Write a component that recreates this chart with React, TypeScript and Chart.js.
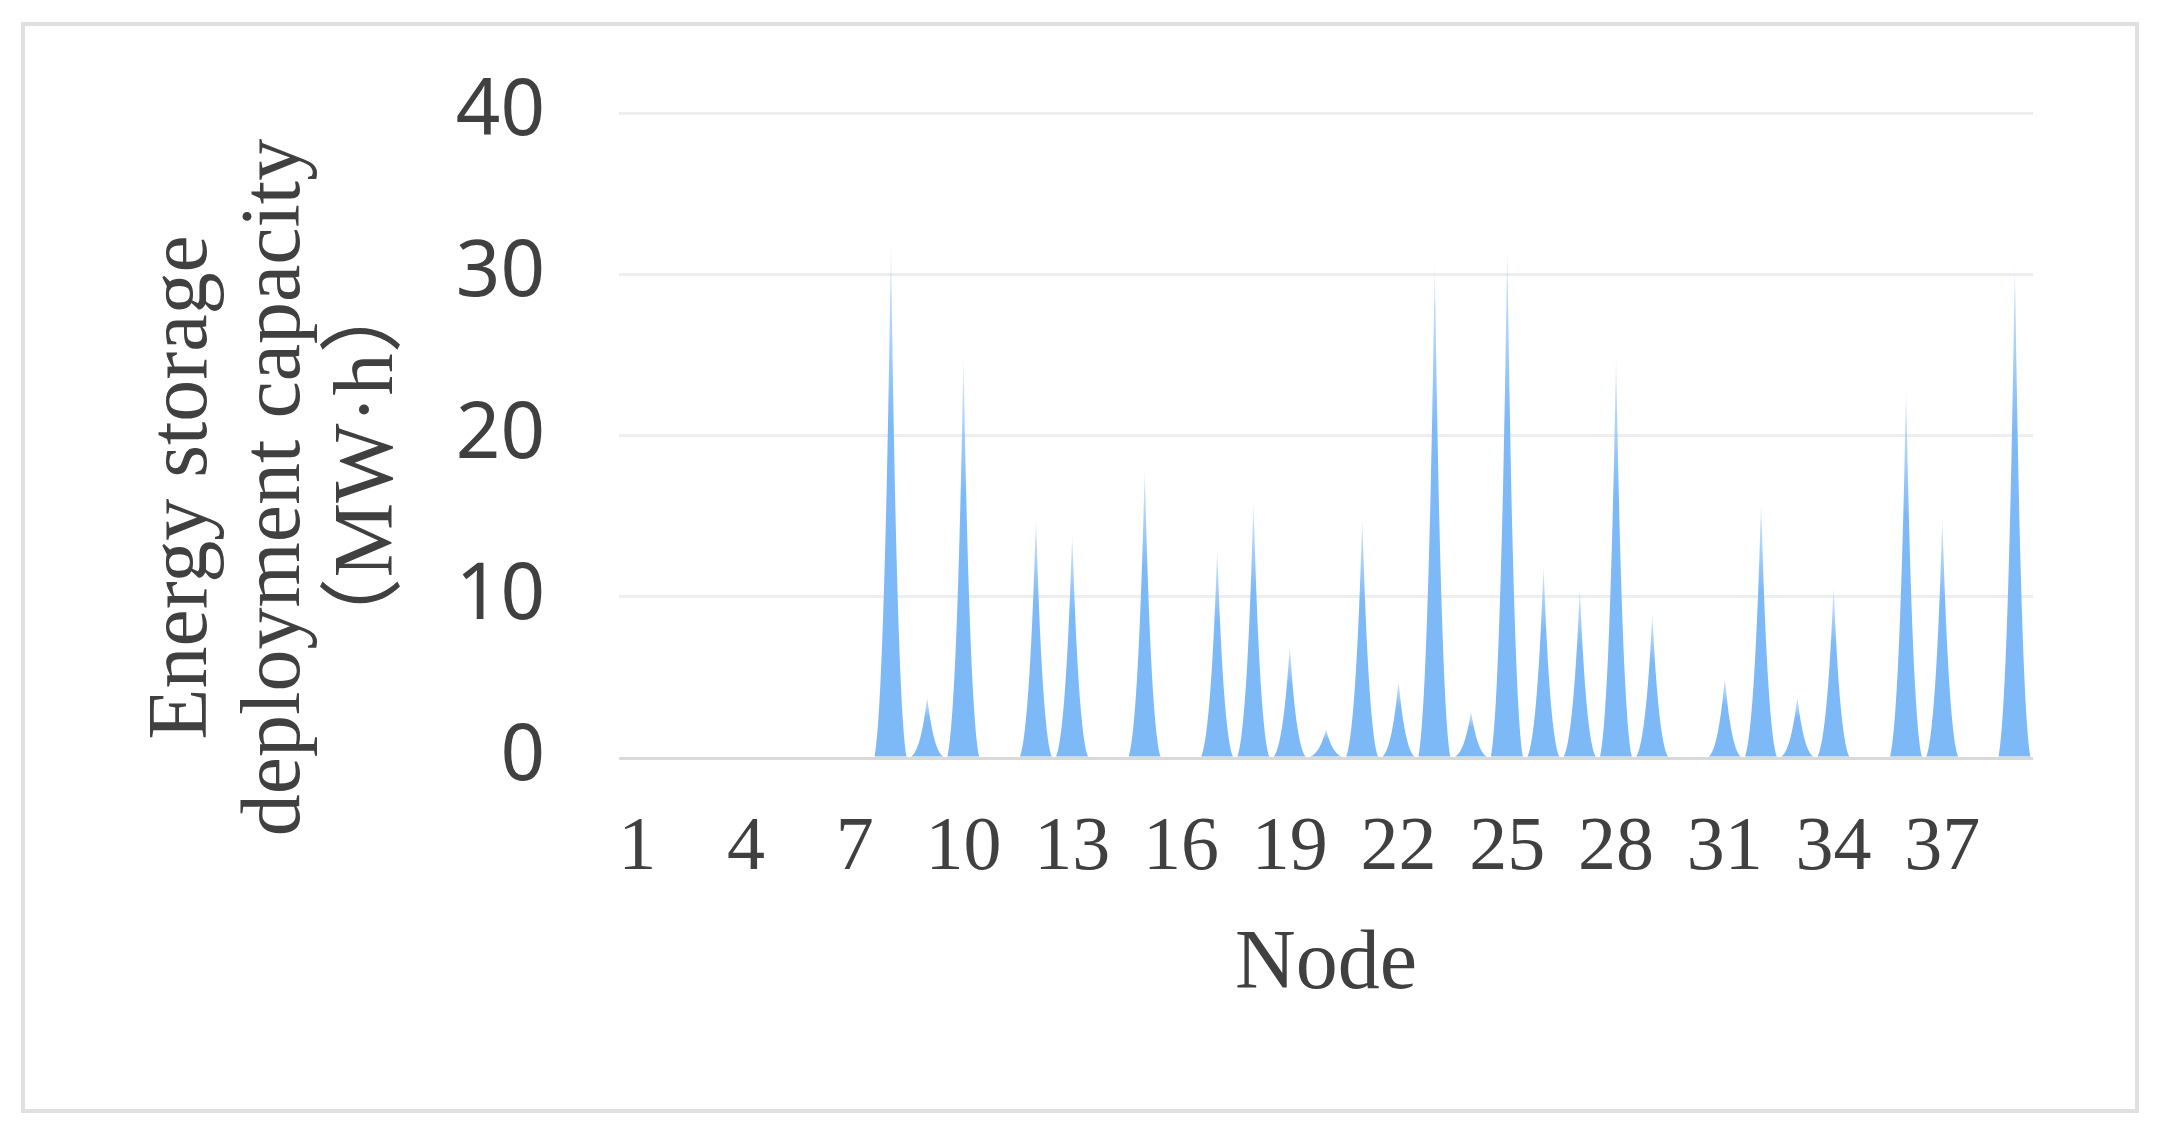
import React, { useEffect, useRef } from "react";
import { Chart, registerables } from "chart.js";

Chart.register(...registerables);

// ---------- data ----------
const nodeLabels = [
  "1", "2", "3", "4", "5", "6", "7", "8", "9", "10",
  "11", "12", "13", "14", "15", "16", "17", "18", "19", "20",
  "21", "22", "23", "24", "25", "26", "27", "28", "29", "30",
  "31", "32", "33", "34", "35", "36", "37", "38", "39",
];

const storageCapacity = [
  0, 0, 0, 0, 0, 0, 0, 32, 3.8, 25,
  0, 15, 14, 0, 18, 0, 13, 16, 7, 1.8,
  15, 4.8, 31, 2.9, 32, 12, 10.6, 25, 9, 0,
  5, 16, 3.8, 10.7, 0, 23, 15, 0, 31,
];

const yTitleLines = ["Energy storage", "deployment capacity", "（MW·h）"];
const xTitle = "Node";
const yMin = 0;
const yMax = 40;
const yStep = 10;
const xLabelEvery = 3;

// ---------- styles ----------
const TEXT = "#404040";
const SERIF = '"Liberation Serif", "Times New Roman", "Noto Sans CJK SC", serif';
const SANS = '"Noto Sans", "Open Sans", sans-serif';
const SPIKE_RGB = "125,185,247";

const spikePlugin = {
  id: "spikes",
  afterDatasetsDraw(chart: any) {
    const meta = chart.getDatasetMeta(0);
    const values = chart.data.datasets[0].data as number[];
    const ctx: CanvasRenderingContext2D = chart.ctx;
    ctx.save();
    meta.data.forEach((el: any, i: number) => {
      const v = values[i];
      if (!v) return;
      const { x, y, base, width } = el.getProps(["x", "y", "base", "width"], true);
      const h = base - y;
      const hw = width / 2;
      const g = ctx.createLinearGradient(0, base, 0, y);
      g.addColorStop(0, `rgba(${SPIKE_RGB},1)`);
      g.addColorStop(0.65, `rgba(${SPIKE_RGB},1)`);
      g.addColorStop(0.9, `rgba(${SPIKE_RGB},0.5)`);
      g.addColorStop(1, `rgba(${SPIKE_RGB},0.1)`);
      ctx.beginPath();
      ctx.moveTo(x - hw, base);
      ctx.bezierCurveTo(x - 0.34 * width, base - 0.05 * h, x - 0.15 * width, base - 0.3 * h, x, y);
      ctx.bezierCurveTo(x + 0.15 * width, base - 0.3 * h, x + 0.34 * width, base - 0.05 * h, x + hw, base);
      ctx.closePath();
      ctx.fillStyle = g;
      ctx.fill();
    });
    ctx.restore();
  },
};

const yTitlePlugin = {
  id: "yTitle",
  afterDraw(chart: any) {
    const ctx: CanvasRenderingContext2D = chart.ctx;
    const { top, bottom } = chart.chartArea;
    const cy = (top + bottom) / 2 + 52;
    ctx.save();
    ctx.font = `84px ${SERIF}`;
    ctx.fillStyle = TEXT;
    ctx.textAlign = "center";
    ctx.textBaseline = "middle";
    yTitleLines.forEach((line, i) => {
      ctx.save();
      ctx.translate(184 + i * 93, cy - (i === 2 ? 22 : 0));
      ctx.rotate(-Math.PI / 2);
      ctx.fillText(line, 0, 0);
      ctx.restore();
    });
    ctx.restore();
  },
};

export default function App() {
  const canvasRef = useRef<HTMLCanvasElement | null>(null);

  useEffect(() => {
    if (!canvasRef.current) return;
    const chart = new Chart(canvasRef.current, {
      type: "bar",
      data: {
        labels: nodeLabels,
        datasets: [
          {
            data: storageCapacity,
            backgroundColor: "rgba(0,0,0,0)",
            borderWidth: 0,
            categoryPercentage: 1,
            barPercentage: 0.88,
          },
        ],
      },
      options: {
        animation: false,
        responsive: false,
        devicePixelRatio: 1,
        layout: { padding: { top: 113, right: 124, left: 0, bottom: 0 } },
        plugins: { legend: { display: false }, tooltip: { enabled: false } },
        scales: {
          x: {
            grid: { display: false, drawTicks: false },
            border: { display: false },
            ticks: {
              autoSkip: false,
              maxRotation: 0,
              minRotation: 0,
              padding: 45,
              color: TEXT,
              font: { family: SERIF, size: 76 },
              callback: (_v: any, idx: number) => (idx % xLabelEvery === 0 ? nodeLabels[idx] : ""),
            },
            title: {
              display: true,
              text: xTitle,
              color: TEXT,
              font: { family: SERIF, size: 84 },
              padding: { top: 0, bottom: 119 },
            },
            afterFit: (s: any) => {
              s.height = 377;
            },
          },
          y: {
            min: yMin,
            max: yMax,
            ticks: {
              stepSize: yStep,
              padding: 0,
              color: TEXT,
              font: { family: SANS, size: 78 },
            },
            grid: {
              drawTicks: true,
              tickLength: 74,
              tickColor: "rgba(0,0,0,0)",
              lineWidth: 3,
              color: (c: any) => (c.tick && c.tick.value === 0 ? "#d9d9d9" : "#eeeeee"),
            },
            border: { display: false },
            afterFit: (s: any) => {
              s.width = 619;
            },
          },
        },
      },
      plugins: [spikePlugin, yTitlePlugin],
    });
    return () => chart.destroy();
  }, []);

  return (
    <div style={{ position: "fixed", left: 0, top: 0, width: 2157, height: 1135, background: "#ffffff" }}>
      <canvas ref={canvasRef} width={2157} height={1135} style={{ display: "block" }} />
      <div
        style={{
          position: "absolute",
          left: 21,
          top: 22,
          width: 2118,
          height: 1091,
          border: "4px solid #e0e0e0",
          boxSizing: "border-box",
          pointerEvents: "none",
        }}
      />
    </div>
  );
}
